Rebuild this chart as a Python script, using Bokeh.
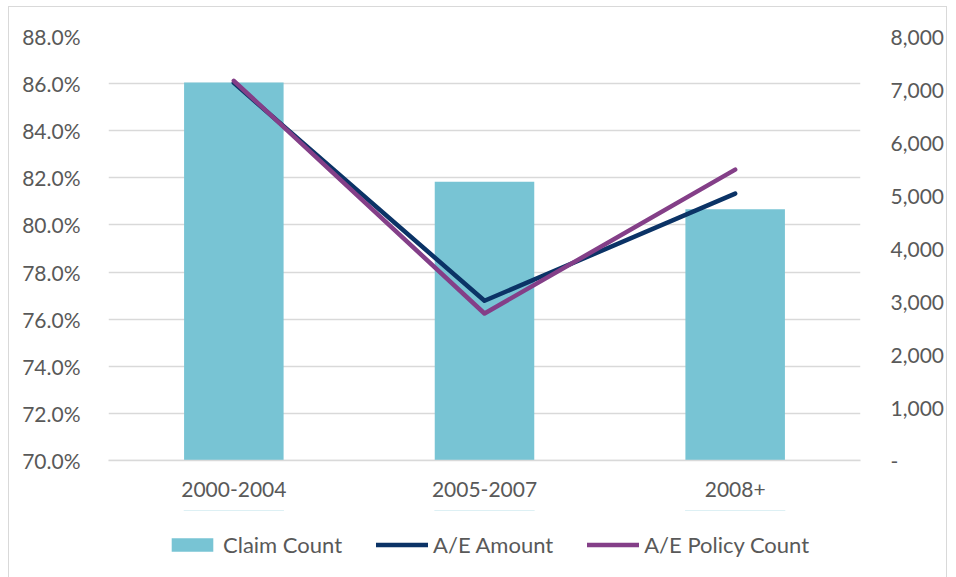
from bokeh.plotting import figure
from bokeh.layouts import column
from bokeh.models import (ColumnDataSource, FactorRange, Range1d, LinearAxis, NumeralTickFormatter,
                          CustomJSTickFormatter, SingleIntervalTicker, Legend, LegendItem)
from bokeh.embed import file_html
from bokeh.resources import INLINE

# ---- data ----
periods = ["2000-2004", "2005-2007", "2008+"]
claim_count = [7130, 5260, 4740]
ae_amount = [0.8603, 0.7678, 0.8133]
ae_policy_count = [0.8612, 0.7624, 0.8235]
series_names = ["Claim Count", "A/E Amount", "A/E Policy Count"]

FONT = "Lato"
TXT = "#595959"
GRID = "#d9d9d9"
FS = "21px"
BAR_C = "#78C4D4"
AMT_C = "#0B3366"
POL_C = "#843F88"

src = ColumnDataSource(dict(period=periods, claims=claim_count, amt=ae_amount, pol=ae_policy_count))

p = figure(width=937, height=503, x_range=FactorRange(*periods, range_padding=0),
           y_range=Range1d(0.70, 0.88), output_backend="svg", toolbar_location=None,
           min_border_left=99, min_border_right=82, min_border_top=29, min_border_bottom=50)
p.outline_line_color = None
p.extra_y_ranges = {"count": Range1d(0, 8000)}

p.vbar(x="period", top="claims", width=0.397, source=src, y_range_name="count",
       fill_color=BAR_C, line_color=None)
p.line(x="period", y="amt", source=src, line_color=AMT_C, line_width=4.5,
       line_cap="round", line_join="round")
p.line(x="period", y="pol", source=src, line_color=POL_C, line_width=4.5,
       line_cap="round", line_join="round")

# left axis
ya = p.yaxis[0]
ya.ticker = SingleIntervalTicker(interval=0.02)
ya.formatter = NumeralTickFormatter(format="0.0%")
ya.axis_line_color = None
ya.major_tick_line_color = None
ya.minor_tick_line_color = None
ya.major_label_text_font = FONT
ya.major_label_text_font_size = FS
ya.major_label_text_color = TXT
ya.major_label_standoff = 22

# right axis
ra = LinearAxis(y_range_name="count", ticker=SingleIntervalTicker(interval=1000),
                formatter=CustomJSTickFormatter(code="return tick == 0 ? ' -' : tick.toLocaleString('en-US');"))
ra.axis_line_color = None
ra.major_tick_line_color = None
ra.minor_tick_line_color = None
ra.major_label_text_font = FONT
ra.major_label_text_font_size = FS
ra.major_label_text_color = TXT
ra.major_label_standoff = 24
p.add_layout(ra, "right")

xa = p.xaxis[0]
xa.axis_line_color = GRID
xa.axis_line_width = 1.5
xa.major_tick_line_color = None
xa.minor_tick_line_color = None
xa.major_tick_out = 0
xa.major_tick_in = 0
xa.major_label_text_font = FONT
xa.major_label_text_font_size = FS
xa.major_label_text_color = TXT
xa.major_label_standoff = 21

p.xgrid.grid_line_color = None
p.ygrid.grid_line_color = GRID
p.ygrid.grid_line_width = 1.5
p.ygrid.ticker = SingleIntervalTicker(interval=0.02)

# legend strip (separate figure so the legend is not clipped); its series are kept out of view
p2 = figure(width=937, height=70, output_backend="svg", toolbar_location=None,
            x_range=FactorRange(*periods), y_range=Range1d(-2, -1),
            x_axis_type=None, y_axis_type=None, min_border=0)
p2.outline_line_color = None
p2.grid.grid_line_color = None
r_bar = p2.vbar(x="period", top="claims", width=0.4, source=src, fill_color=BAR_C, line_color=None)
r_amt = p2.line(x="period", y="amt", source=src, line_color=AMT_C, line_width=4.5, line_cap="round")
r_pol = p2.line(x="period", y="pol", source=src, line_color=POL_C, line_width=4.5, line_cap="round")

legend = Legend(items=[LegendItem(label=series_names[0], renderers=[r_bar]),
                       LegendItem(label=series_names[1], renderers=[r_amt]),
                       LegendItem(label=series_names[2], renderers=[r_pol])],
                orientation="horizontal", location=(58, 22),
                label_text_font=FONT, label_text_font_size="22px", label_text_color=TXT,
                glyph_width=52, glyph_height=17, label_standoff=5, spacing=34,
                border_line_color=None, background_fill_alpha=0, padding=6, margin=0)
p2.add_layout(legend, "center")

layout = column(p, p2, spacing=0)
layout.styles = {"border": "1px solid #d9d9d9", "margin-left": "8px", "margin-top": "6px"}

open("out.html", "w").write(file_html(layout, INLINE))
